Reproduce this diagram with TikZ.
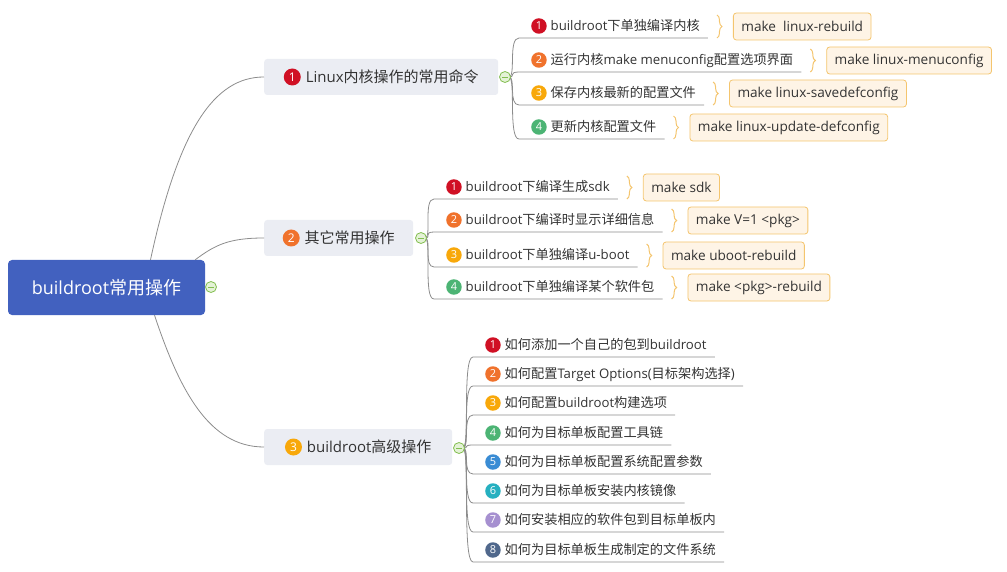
\documentclass[tikz,border=0pt]{standalone}
\usepackage{fontspec}
\setmainfont{Open Sans}
\newfontfamily\cjkfont{Noto Sans CJK SC}
\usetikzlibrary{decorations.pathreplacing}
\XeTeXinterchartokenstate=1
\newXeTeXintercharclass\CJKcls
\count255="4E00
\loop \XeTeXcharclass\count255=\CJKcls \advance\count255 by 1 \ifnum\count255<"9FFF \repeat
\XeTeXinterchartoks 0 \CJKcls = {\cjkfont}
\XeTeXinterchartoks 4095 \CJKcls = {\cjkfont}
\XeTeXinterchartoks \CJKcls 0 = {\rmfamily}
\XeTeXinterchartoks \CJKcls 4095 = {\rmfamily}

\definecolor{rootblue}{RGB}{66,97,191}
\definecolor{mainfill}{RGB}{235,237,243}
\definecolor{txt}{RGB}{51,51,51}
\definecolor{linec}{RGB}{140,140,140}
\definecolor{bfill}{RGB}{254,244,230}
\definecolor{bdraw}{RGB}{244,197,110}
\definecolor{cgreen}{RGB}{130,190,80}
\definecolor{cgreenf}{RGB}{228,242,214}
\definecolor{n1}{RGB}{208,16,36}
\definecolor{n2}{RGB}{240,114,44}
\definecolor{n3}{RGB}{248,168,10}
\definecolor{n4}{RGB}{76,180,116}
\definecolor{n5}{RGB}{58,140,212}
\definecolor{n6}{RGB}{38,176,192}
\definecolor{n7}{RGB}{166,144,208}
\definecolor{n8}{RGB}{80,104,140}

\newcommand\badge[2]{\tikz[x=1cm,y=1cm,baseline={([yshift=-4.8pt]bdg.center)}]\node[circle,fill=#1,inner sep=0pt,minimum size=15.5pt,text=white,font=\fontsize{11}{11}\selectfont] (bdg) {#2};}
\newcommand\bigbadge[2]{\tikz[x=1cm,y=1cm,baseline={([yshift=-5.6pt]bdg.center)}]\node[circle,fill=#1,inner sep=0pt,minimum size=17pt,text=white,font=\fontsize{12}{12}\selectfont] (bdg) {#2};}

\tikzset{
  rootbox/.style={fill=rootblue, rounded corners=4pt, text=white, font=\fontsize{18}{21}\selectfont, minimum width=197pt, minimum height=55pt, inner sep=0pt},
  mainbox/.style={fill=mainfill, rounded corners=3pt, text=txt, font=\fontsize{15}{18}\selectfont, inner xsep=17pt, inner ysep=0pt, minimum height=36pt, anchor=west},
  leaf/.style={anchor=south west, inner xsep=0pt, inner ysep=0pt, text height=12pt, text depth=7pt, font=\fontsize{13.2}{15}\selectfont, text=txt},
  cmd/.style={fill=bfill, draw=bdraw, line width=0.8pt, rounded corners=3pt, minimum height=27pt, inner xsep=8pt, inner ysep=0pt, font=\fontsize{13.6}{15}\selectfont, text=txt, anchor=west},
  fold/.style={circle, draw=cgreen, fill=cgreenf, line width=0.8pt, minimum size=11pt, inner sep=0pt,
    path picture={\draw[cgreen, line width=0.9pt] ([xshift=-3pt]path picture bounding box.center) -- ([xshift=3pt]path picture bounding box.center);}},
  conn/.style={draw=linec, line width=0.8pt},
  obrace/.style={draw=bdraw, line width=1pt, decorate, decoration={brace, amplitude=5pt}}
}

\begin{document}
\begin{tikzpicture}[x=1pt,y=-1pt]
\useasboundingbox (0,0) rectangle (1007,572);

% root and main branches
\node[rootbox] (root) at (106.5,287.5) {buildroot常用操作};
\node[mainbox, minimum width=234pt] (b1) at (264,77) {\bigbadge{n1}{1}\hspace{5pt}Linux内核操作的常用命令};
\node[mainbox, minimum width=149pt] (b2) at (264,238) {\bigbadge{n2}{2}\hspace{5pt}其它常用操作};
\node[mainbox, minimum width=188pt] (b3) at (264,447) {\bigbadge{n3}{3}\hspace{5pt}buildroot高级操作};

\draw[conn] ([xshift=44pt]root.north) .. controls +(28,-130) and +(-50,0) .. (b1.west);
\draw[conn] ([xshift=-10pt]root.north east) .. controls +(20,-15) and +(-35,0) .. (b2.west);
\draw[conn] ([xshift=48pt]root.south) .. controls +(25,75) and +(-55,0) .. (b3.west);

% fold markers positions
\coordinate (k1p) at (505,77);
\coordinate (k2p) at (421,238);
\coordinate (k3p) at (459,448);

% branch 1 leaves
\node[leaf] (l11) at (519,38) {\hspace*{12pt}\badge{n1}{1}\hspace{4pt}buildroot下单独编译内核\hspace*{8pt}};
\node[leaf] (l12) at (519,72) {\hspace*{12pt}\badge{n2}{2}\hspace{4pt}运行内核make menuconfig配置选项界面\hspace*{8pt}};
\node[leaf] (l13) at (519,105) {\hspace*{12pt}\badge{n3}{3}\hspace{4pt}保存内核最新的配置文件\hspace*{8pt}};
\node[leaf] (l14) at (519,139) {\hspace*{12pt}\badge{n4}{4}\hspace{4pt}更新内核配置文件\hspace*{8pt}};

% branch 2 leaves
\node[leaf] (l21) at (434,199) {\hspace*{12pt}\badge{n1}{1}\hspace{4pt}buildroot下编译生成sdk\hspace*{8pt}};
\node[leaf] (l22) at (434,232) {\hspace*{12pt}\badge{n2}{2}\hspace{4pt}buildroot下编译时显示详细信息\hspace*{8pt}};
\node[leaf] (l23) at (434,267) {\hspace*{12pt}\badge{n3}{3}\hspace{4pt}buildroot下单独编译u-boot\hspace*{8pt}};
\node[leaf] (l24) at (434,299) {\hspace*{12pt}\badge{n4}{4}\hspace{4pt}buildroot下单独编译某个软件包\hspace*{8pt}};

% branch 3 leaves
\node[leaf] (l31) at (473,357) {\hspace*{12pt}\badge{n1}{1}\hspace{4pt}如何添加一个自己的包到buildroot\hspace*{8pt}};
\node[leaf] (l32) at (473,386) {\hspace*{12pt}\badge{n2}{2}\hspace{4pt}如何配置Target Options(目标架构选择)\hspace*{8pt}};
\node[leaf] (l33) at (473,415) {\hspace*{12pt}\badge{n3}{3}\hspace{4pt}如何配置buildroot构建选项\hspace*{8pt}};
\node[leaf] (l34) at (473,445) {\hspace*{12pt}\badge{n4}{4}\hspace{4pt}如何为目标单板配置工具链\hspace*{8pt}};
\node[leaf] (l35) at (473,474) {\hspace*{12pt}\badge{n5}{5}\hspace{4pt}如何为目标单板配置系统配置参数\hspace*{8pt}};
\node[leaf] (l36) at (473,503) {\hspace*{12pt}\badge{n6}{6}\hspace{4pt}如何为目标单板安装内核镜像\hspace*{8pt}};
\node[leaf] (l37) at (473,532) {\hspace*{12pt}\badge{n7}{7}\hspace{4pt}如何安装相应的软件包到目标单板内\hspace*{8pt}};
\node[leaf] (l38) at (473,562) {\hspace*{12pt}\badge{n8}{8}\hspace{4pt}如何为目标单板生成制定的文件系统\hspace*{8pt}};

% connectors to leaves
\foreach \l in {l11,l12,l13,l14}
  \draw[conn] (k1p) ++(4,0) .. controls +(7,0) and +(-11,0) .. (\l.south west) -- (\l.south east);
\foreach \l in {l21,l22,l23,l24}
  \draw[conn] (k2p) ++(4,0) .. controls +(7,0) and +(-11,0) .. (\l.south west) -- (\l.south east);
\foreach \l in {l31,l32,l33,l34,l35,l36,l37,l38}
  \draw[conn] (k3p) ++(4,0) .. controls +(7,0) and +(-11,0) .. (\l.south west) -- (\l.south east);

% fold markers
\node[fold] (k0) at (211,287) {};
\node[fold] (k1) at (k1p) {};
\node[fold] (k2) at (k2p) {};
\node[fold] (k3) at (k3p) {};

% braces and command boxes
\foreach \l/\c/\t in {l11/c11/{make\ \ linux-rebuild}, l12/c12/{make linux-menuconfig}, l13/c13/{make linux-savedefconfig}, l14/c14/{make linux-update-defconfig}, l21/c21/{make sdk}, l22/c22/{make V=1 <pkg>}, l23/c23/{make uboot-rebuild}, l24/c24/{make <pkg>-rebuild}} {
  \draw[obrace] ([shift={(9,-23)}]\l.south east) -- ([xshift=9pt]\l.south east);
  \node[cmd] (\c) at ([shift={(25,-11.5)}]\l.south east) {\t};
}
\end{tikzpicture}
\end{document}
